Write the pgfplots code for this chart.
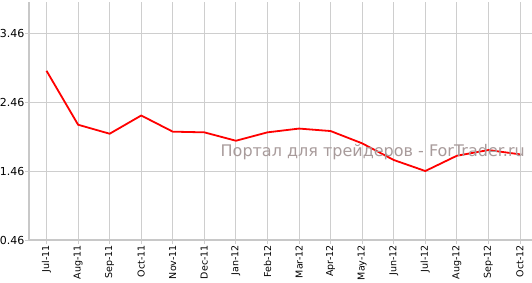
\documentclass[border=0pt]{standalone}
\usepackage{fontspec}
\setmainfont{DejaVu Sans}
\usepackage{pgfplots}
\pgfplotsset{compat=1.18}
\definecolor{gridc}{RGB}{206,206,206}
\definecolor{axc}{RGB}{200,200,200}
\definecolor{wm}{RGB}{168,155,155}
\begin{document}
\begin{tikzpicture}[x=1pt,y=1pt]
\useasboundingbox (0,0) rectangle (532,282);
\begin{axis}[
 at={(29pt,42pt)}, anchor=south west,
 scale only axis, width=503pt, height=238pt,
 xmin=-0.555, xmax=15.38, ymin=0.46, ymax=3.92,
 axis x line*=bottom, axis y line*=left,
 axis line style={draw=axc, line width=2.5pt, -},
 xtick={0,...,15},
 xticklabels={Jul-11,Aug-11,Sep-11,Oct-11,Nov-11,Dec-11,Jan-12,Feb-12,Mar-12,Apr-12,May-12,Jun-12,Jul-12,Aug-12,Sep-12,Oct-12},
 x tick label style={rotate=90, anchor=east, font=\fontsize{9.5}{11}\selectfont, inner sep=1pt},
 ytick={0.46,1.46,2.46,3.46},
 yticklabels={0.46,1.46,2.46,3.46},
 y tick label style={font=\fontsize{11}{13}\selectfont, inner sep=0.5pt},
 grid=major, grid style={gridc, line width=1pt},
 tick style={gridc, line width=1pt}, tick align=outside, major tick length=4pt,
 clip=false,
]
\addplot[red, line width=1.8pt, line join=round] coordinates {
 (0,2.92) (1,2.136) (2,2.005) (3,2.27) (4,2.035) (5,2.025) (6,1.903) (7,2.025)
 (8,2.08) (9,2.044) (10,1.865) (11,1.623) (12,1.463) (13,1.685) (14,1.768) (15,1.705)
};
\node[anchor=east, text=wm, font=\fontsize{16}{18}\selectfont, inner sep=0pt] at (rel axis cs:0.986,0.37) {Портал для трейдеров - ForTrader.ru};
\end{axis}
\end{tikzpicture}
\end{document}
